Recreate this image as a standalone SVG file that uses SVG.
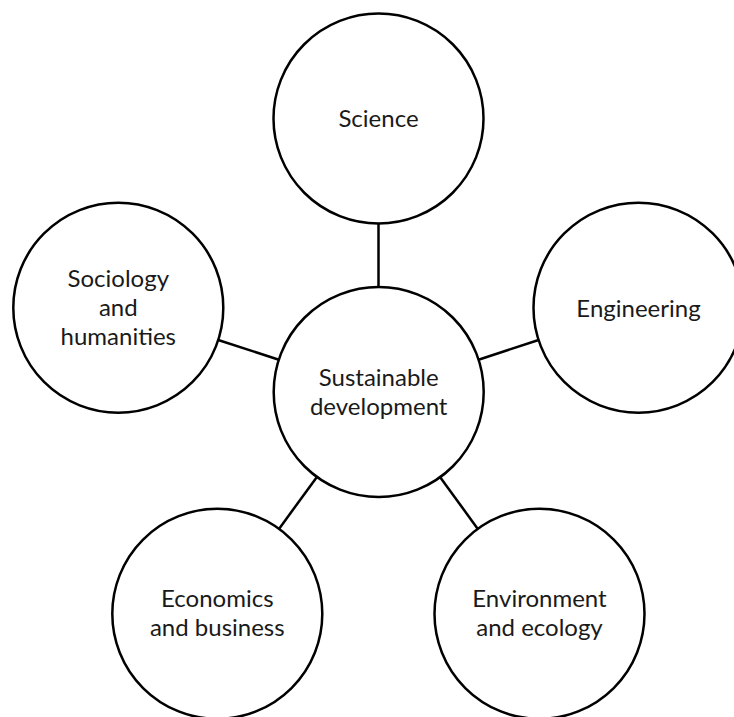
<svg xmlns="http://www.w3.org/2000/svg" width="734" height="717" viewBox="0 0 734 717">
<style>
.n{fill:#fff;stroke:#000;stroke-width:2.5}
.c{stroke:#000;stroke-width:2.5;fill:none}
text{font-family:Lato,"Liberation Sans",sans-serif;font-size:24px;fill:#1a1a1a;text-anchor:middle}
</style>
<rect width="734" height="717" fill="#fff"/>
<g id="connectors">
<line class="c" x1="378.5" y1="223" x2="378.5" y2="287"/>
<line class="c" x1="218.2" y1="340" x2="278.9" y2="359.7"/>
<line class="c" x1="538.6" y1="340" x2="478.5" y2="359.7"/>
<line class="c" x1="279" y1="528.9" x2="316.9" y2="476.9"/>
<line class="c" x1="477.8" y1="528.9" x2="440" y2="476.9"/>
</g>
<g id="science"><circle class="n" cx="378.5" cy="118.5" r="105"/><text x="378.5" y="126.7">Science</text></g>
<g id="engineering"><circle class="n" cx="638.5" cy="307.7" r="105"/><text x="638.5" y="316.7">Engineering</text></g>
<g id="sociology"><circle class="n" cx="118.3" cy="307.7" r="105"/><text x="118.3" y="286.7">Sociology</text><text x="118.3" y="316.2">and</text><text x="118.3" y="345.2">humanities</text></g>
<g id="sustainable"><circle class="n" cx="378.7" cy="392" r="105"/><text x="378.7" y="386">Sustainable</text><text x="378.7" y="414.5">development</text></g>
<g id="economics"><circle class="n" cx="217.3" cy="613.8" r="105"/><text x="217.3" y="606.7">Economics</text><text x="217.3" y="636">and business</text></g>
<g id="environment"><circle class="n" cx="539.5" cy="613.8" r="105"/><text x="539.5" y="606.7">Environment</text><text x="539.5" y="636">and ecology</text></g>
</svg>
